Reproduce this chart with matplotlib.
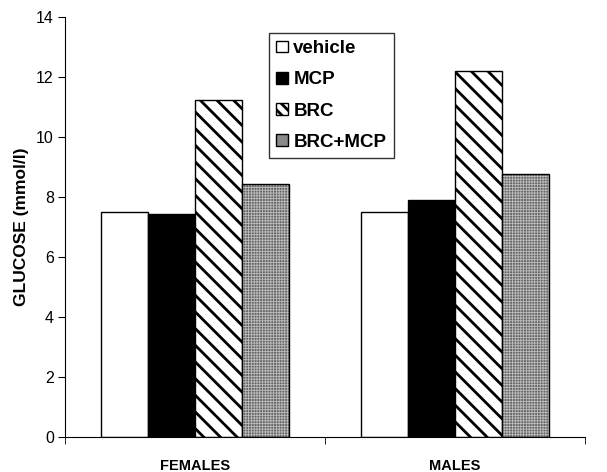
import numpy as np
import matplotlib.pyplot as plt
from matplotlib.patches import Patch

plt.rcParams['font.family'] = ['Liberation Sans', 'DejaVu Sans']
plt.rcParams['hatch.linewidth'] = 2.0

groups = ['FEMALES', 'MALES']
treatments = ['vehicle', 'MCP', 'BRC', 'BRC+MCP']
vehicle = [7.5, 7.5]
mcp = [7.45, 7.9]
brc = [11.25, 12.2]
brc_mcp = [8.45, 8.78]

fig = plt.figure(figsize=(6.07, 4.72), dpi=100)
ax = fig.add_axes([0.107, 0.074, 0.857, 0.89])

x = np.arange(len(groups)) + 0.5
w = 0.181

ax.bar(x - 1.5*w, vehicle, w, facecolor='white', edgecolor='black', lw=1)
ax.bar(x - 0.5*w, mcp, w, facecolor='black', edgecolor='black', lw=1)
ax.bar(x + 0.5*w, brc, w, facecolor='white', edgecolor='black', lw=1, hatch='\\\\')
# dotted grey fill, then outline on top
with plt.rc_context({'hatch.linewidth': 0.6}):
    ax.bar(x + 1.5*w, brc_mcp, w, facecolor='#656565', edgecolor='#bdbdbd', lw=0, hatch='++++++')
ax.bar(x + 1.5*w, brc_mcp, w, facecolor='none', edgecolor='black', lw=1)

ax.set_xlim(0, 2)
ax.set_ylim(0, 14)
ax.set_yticks(np.arange(0, 15, 2))
ax.tick_params(axis='y', direction='out', length=5, labelsize=11.5, pad=3)
ax.set_xticks([0, 1, 2], minor=True)
ax.set_xticks(x)
ax.set_xticklabels(groups, fontweight='bold', fontsize=10.5)
ax.tick_params(axis='x', which='major', length=0, pad=16)
ax.tick_params(axis='x', which='minor', direction='out', length=5)
ax.spines['top'].set_visible(False)
ax.spines['right'].set_visible(False)
ax.set_ylabel('GLUCOSE (mmol/l)', fontweight='bold', fontsize=12.5, labelpad=5)

handles = [
    Patch(facecolor='white', edgecolor='black'),
    Patch(facecolor='black', edgecolor='black'),
    Patch(facecolor='white', edgecolor='black', hatch='\\\\\\'),
    Patch(facecolor='#8a8a8a', edgecolor='black'),
]
leg = fig.legend(handles, treatments, loc='upper left', bbox_to_anchor=(0.443, 0.931),
                 prop={'weight': 'bold', 'size': 13.5}, frameon=True, fancybox=False,
                 handlelength=0.6, handleheight=0.6, handletextpad=0.3,
                 labelspacing=0.76, borderpad=0.4, borderaxespad=0)
leg.get_frame().set_edgecolor('black')
leg.get_frame().set_linewidth(1)

fig.savefig('out.png', dpi=100)
